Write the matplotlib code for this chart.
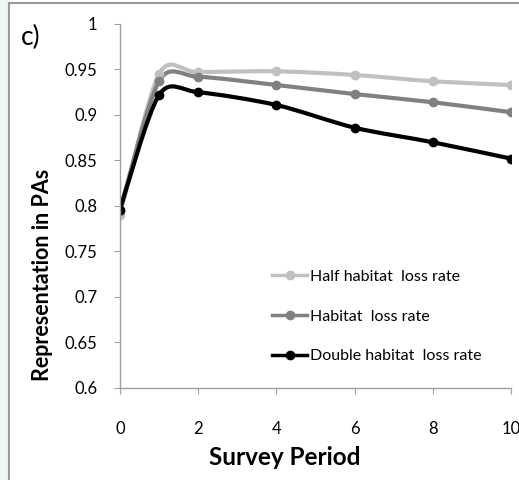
import numpy as np
import matplotlib
matplotlib.use("Agg")
import matplotlib.pyplot as plt
from matplotlib.path import Path
from matplotlib.patches import PathPatch, Rectangle
from matplotlib.lines import Line2D

# data
period = [0, 1, 2, 4, 6, 8, 10]
half_rate = [0.790, 0.945, 0.947, 0.948, 0.944, 0.937, 0.933]
normal_rate = [0.795, 0.937, 0.942, 0.933, 0.923, 0.914, 0.903]
double_rate = [0.796, 0.922, 0.925, 0.911, 0.886, 0.870, 0.852]
series_names = ["Half habitat  loss rate", "Habitat  loss rate", "Double habitat  loss rate"]
series_colors = ["#c0c0c0", "#808080", "#000000"]

plt.rcParams['font.family'] = ['Lato', 'DejaVu Sans']


def smooth_path(xs, ys):
    # bezier path through the points, like a spreadsheet "smoothed line"
    pts = np.column_stack([xs, ys]).astype(float)
    n = len(pts)
    verts = [pts[0]]
    codes = [Path.MOVETO]
    for i in range(n - 1):
        p0 = pts[i - 1] if i > 0 else pts[i]
        p1 = pts[i]
        p2 = pts[i + 1]
        p3 = pts[i + 2] if i + 2 < n else pts[i + 1]
        c1 = p1 + (p2 - p0) / 7.0
        c2 = p2 - (p3 - p1) / 7.0
        verts += [c1, c2, p2]
        codes += [Path.CURVE4] * 3
    return Path(verts, codes)


fig = plt.figure(figsize=(5.19, 4.8), dpi=100)
ax = fig.add_axes([0.231, 0.1917, 0.754, 0.7583])

# page frame on the left / top
fig.patches.append(Rectangle((0, 0), 8 / 519, 1, transform=fig.transFigure,
                             facecolor="#eef6f6", edgecolor="none", zorder=0))
fig.lines.append(Line2D([8.5 / 519, 8.5 / 519], [0, 1 - 3 / 480], transform=fig.transFigure,
                        color="#999999", lw=1.5))
fig.lines.append(Line2D([8.5 / 519, 1], [1 - 3 / 480, 1 - 3 / 480], transform=fig.transFigure,
                        color="#999999", lw=1.5))

all_series = [half_rate, normal_rate, double_rate]
for vals, name, col in zip(all_series, series_names, series_colors):
    patch = PathPatch(smooth_path(period, vals), facecolor="none", edgecolor=col,
                      lw=3, capstyle="round", joinstyle="round")
    ax.add_patch(patch)
    ax.plot(period, vals, linestyle="none", marker="o", markersize=6, color=col)

handles = [Line2D([], [], color=c, lw=2.5, marker="o", markersize=6) for c in series_colors]
ax.legend(handles, series_names, loc="lower left", bbox_to_anchor=(0.373, 0.05),
          frameon=False, fontsize=11.5, handlelength=2.2, handletextpad=0.15,
          labelspacing=1.6, borderaxespad=0)

ax.set_xlim(0, 10)
ax.set_ylim(0.6, 1.0)
ax.set_xticks([0, 2, 4, 6, 8, 10])
ax.set_yticks(np.arange(0.6, 1.001, 0.05))
ax.set_yticklabels(["0.6", "0.65", "0.7", "0.75", "0.8", "0.85", "0.9", "0.95", "1"])

for s in ["top", "right"]:
    ax.spines[s].set_visible(False)
for s in ["left", "bottom"]:
    ax.spines[s].set_color("#a0a0a0")
    ax.spines[s].set_linewidth(1.0)
ax.tick_params(axis="both", colors="#a0a0a0", labelcolor="black", labelsize=12,
               length=4, direction="out")
ax.tick_params(axis="x", pad=20)
ax.tick_params(axis="y", pad=12)

ax.set_xlabel("Survey Period", fontsize=17.5, fontweight="bold")
ax.set_ylabel("Representation in PAs", fontsize=15.5, fontweight="bold")
ax.xaxis.set_label_coords(0.422, -0.160)
ax.yaxis.set_label_coords(-0.172, 0.31)

fig.text(21 / 519, 1 - 37 / 480, "c)", fontsize=19, va="center", ha="left")

fig.savefig("out.png", dpi=100)
